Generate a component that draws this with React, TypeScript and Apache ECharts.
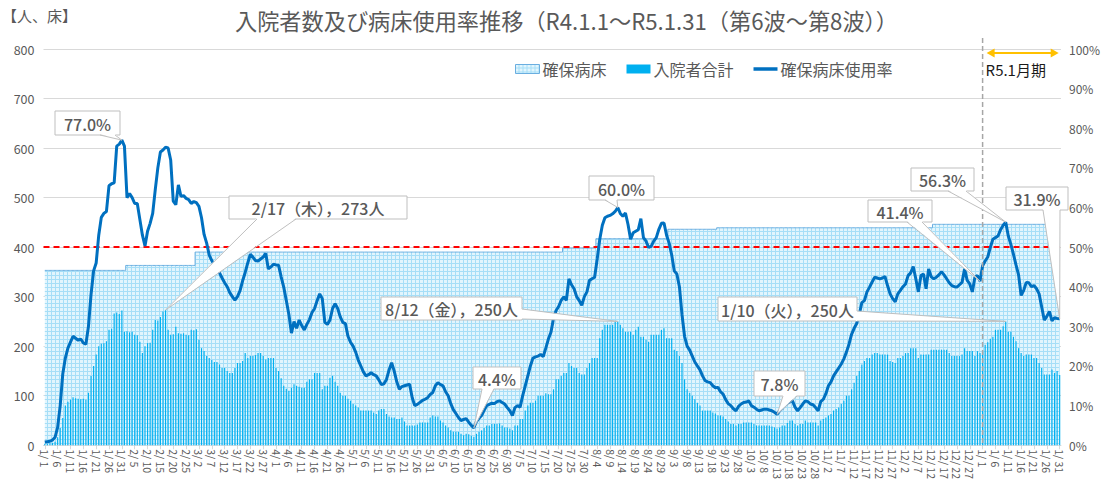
import React, { useEffect, useRef } from 'react';
import * as echarts from 'echarts';

const FONT = "'Noto Sans CJK JP', 'Noto Sans', sans-serif";
const TEXT = '#595959';

// Daily categories: 2022-01-01 .. 2023-01-31
const START_DATE = Date.UTC(2022, 0, 1);
const DAY_COUNT = 396;
const categories: string[] = Array.from({ length: DAY_COUNT }, (_, i) =>
  new Date(START_DATE + i * 86400000).toISOString().slice(0, 10)
);

// 確保病床 (secured beds) as [beds, number of days] steps
const capacitySteps: [number, number][] = [
  [353, 32], [363, 27], [390, 143], [398, 13], [417, 28], [436, 19], [439, 84], [446, 50],
];

// 入院者合計 (inpatients)
const inpatients = [
  3, 3, 4, 5, 7, 16, 35, 55, 80, 88,
  92, 97, 95, 94, 93, 94, 92, 106, 140, 160,
  183, 200, 205, 206, 210, 233, 235, 266, 268, 265,
  272, 229, 230, 228, 229, 223, 222, 209, 186, 200,
  206, 207, 233, 253, 252, 259, 270, 273, 233, 223,
  224, 239, 226, 225, 226, 223, 222, 233, 232, 234,
  213, 196, 190, 180, 176, 172, 168, 168, 163, 156,
  156, 150, 146, 146, 156, 166, 166, 170, 186, 176,
  180, 180, 182, 186, 186, 180, 173, 176, 176, 176,
  156, 150, 135, 120, 114, 110, 116, 123, 120, 118,
  116, 116, 128, 133, 133, 146, 146, 146, 113, 120,
  120, 136, 140, 128, 120, 106, 100, 100, 94, 90,
  83, 80, 76, 70, 70, 70, 70, 70, 66, 63,
  70, 73, 73, 63, 58, 56, 56, 53, 53, 56,
  48, 40, 40, 40, 40, 42, 46, 46, 46, 46,
  56, 60, 58, 58, 50, 46, 40, 36, 30, 27,
  27, 27, 23, 20, 23, 22, 19, 17, 23, 27,
  30, 35, 40, 40, 43, 43, 43, 44, 40, 36,
  36, 34, 30, 40, 40, 53, 53, 70, 80, 86,
  86, 90, 100, 100, 100, 105, 103, 103, 113, 133,
  133, 140, 146, 146, 166, 160, 156, 156, 146, 143,
  143, 156, 166, 176, 176, 176, 216, 233, 243, 243,
  243, 243, 250, 250, 243, 236, 229, 229, 229, 223,
  233, 239, 219, 219, 213, 209, 223, 223, 223, 223,
  233, 236, 216, 216, 216, 193, 190, 180, 166, 133,
  113, 106, 100, 93, 86, 80, 70, 70, 70, 70,
  66, 64, 60, 60, 58, 53, 48, 43, 43, 40,
  43, 43, 46, 46, 46, 46, 43, 40, 40, 40,
  40, 40, 40, 38, 36, 34, 36, 40, 40, 45,
  50, 50, 43, 40, 43, 43, 50, 46, 46, 46,
  46, 40, 50, 53, 56, 60, 63, 70, 73, 76,
  83, 90, 100, 100, 113, 126, 140, 150, 163, 170,
  176, 176, 183, 186, 186, 183, 183, 183, 183, 170,
  168, 166, 176, 176, 180, 186, 186, 196, 196, 196,
  176, 183, 183, 183, 183, 193, 193, 193, 193, 193,
  193, 193, 186, 180, 180, 180, 180, 183, 196, 190,
  190, 190, 180, 190, 186, 190, 203, 208, 215, 219,
  233, 233, 233, 240, 250, 229, 229, 219, 210, 196,
  186, 180, 183, 183, 183, 176, 176, 166, 156, 143,
  143, 143, 153, 146, 150, 142,
];

// 確保病床使用率 (%)
const occupancyRate = [
  0.8, 0.9, 1.0, 1.3, 2.0, 4.5, 10, 18, 22, 24.5,
  26, 27.5, 27, 26.5, 26.8, 25.8, 25.5, 30, 38, 44,
  46, 53, 57.5, 58.5, 59, 65.5, 66, 66.2, 75.5, 76,
  77.0, 75.5, 62.5, 63.5, 62.5, 61, 61, 57, 53, 50.3,
  54, 56, 58.5, 64.5, 70, 74, 74.5, 75.2, 75, 72,
  61.6, 60.7, 65.7, 62.8, 63, 62.3, 62, 61, 61.5, 61.2,
  60.3, 57.4, 53.2, 51, 48, 46.6, 45.5, 44.5, 43.5, 42.2,
  41, 40, 38.5, 37.5, 36.6, 37.5, 39, 41.5, 43.6, 46,
  48.2, 47.5, 46.6, 46.5, 47, 47.5, 48.4, 44.5, 45, 45.7,
  45.5, 45.4, 42.5, 39.9, 36.5, 33, 28.3, 31.2, 29.5, 31.6,
  30.2, 29.1, 30.5, 31.7, 33.5, 34.5, 36.5, 38.2, 37, 31,
  30.5, 31.6, 34.5, 35.7, 34.5, 32.4, 31, 30.7, 27.5, 26,
  25, 23.5, 21.5, 20, 18.5, 17.5, 17.8, 18.3, 17.8, 17.5,
  16.5, 15.3, 15.5, 16.6, 19, 20.8, 18.7, 16, 14.1, 14.8,
  15, 15.2, 15.4, 12, 10, 10.3, 10.8, 11.3, 11.6, 12,
  12.8, 13.3, 15, 15.8, 15.3, 15, 13.5, 12.5, 10.5, 9,
  8, 7, 6.2, 6.5, 6.7, 5.8, 5, 4.4, 6, 6.8,
  7.5, 8.8, 10, 10.3, 10.6, 10.5, 11, 11.2, 10.8, 10.4,
  9.5, 8.7, 7.5, 9.5, 10, 9.6, 12.5, 15, 17.5, 20,
  22, 22.3, 22.5, 22.9, 22.4, 24.5, 26.8, 28.5, 32, 34,
  35, 36.6, 37.4, 36.6, 42, 40.5, 39.5, 37.5, 36.5, 35.3,
  37.5, 38.7, 41.6, 42, 42.4, 47, 52, 55.5, 57.4, 57.8,
  58, 58.4, 59, 60.0, 58.5, 57.8, 58.6, 55.7, 52, 53.6,
  54, 54.4, 57.2, 52.4, 51.5, 49.9, 50.2, 51.5, 52.4, 54.5,
  56, 56.1, 53, 51, 48, 44, 43.2, 40, 33, 27.5,
  25, 24, 22.5, 21, 20, 19, 17.5, 16.3, 16, 15.8,
  15, 14.5, 14.6, 13.5, 12.9, 11.5, 10.5, 10, 9.2, 8.7,
  9.8, 10.4, 10.8, 10.9, 11.2, 10, 9.6, 9.1, 8.7, 8.9,
  9.1, 9.1, 8.9, 8.7, 8.3, 7.8, 8.7, 9.3, 10, 10.6,
  11, 11.2, 9.6, 8.7, 9.5, 10.4, 11.2, 11, 10.4, 10.2,
  9.5, 8.7, 11, 11.6, 13, 15, 16, 17.5, 18.5, 19.5,
  20.5, 21.8, 23.5, 25.5, 28, 29.5, 30.7, 33, 36, 36.5,
  38.7, 39.9, 41.2, 42.4, 42.2, 42, 42.2, 42.6, 40.3, 38.2,
  37, 36.2, 38.2, 39.1, 40, 40.7, 42.8, 43.5, 45.1, 42,
  38.7, 42.8, 43.2, 39.5, 44.5, 42.5, 42, 42.4, 43, 43.8,
  43, 42, 41, 40.3, 40, 39.9, 40.5, 41.1, 44.5, 41.6,
  40.7, 38.7, 42.4, 42.8, 41.4, 45.3, 46.5, 47.5, 49.9, 52,
  52.4, 52.8, 54.4, 55.5, 56.3, 52.8, 50.7, 48.2, 45.5, 43,
  37.8, 39.1, 41.1, 41, 40, 40.3, 39.5, 38.2, 34.9, 31.6,
  32.5, 33.8, 31.4, 32.2, 32, 31.9,
];

const capacity: number[] = capacitySteps.flatMap(([v, n]) => Array(n).fill(v));

const THRESHOLD_RATE = 50;
const MONTH_START_INDEX = 365; // 2023-01-01

type Callout = {
  text: string;
  box: [number, number, number, number];
  side: 'bottom' | 'right';
  base: [number, number];
  index: number;
  series: 'bar' | 'rate';
};

const callouts: Callout[] = [
  { text: '77.0%', box: [55, 111, 65, 24], side: 'bottom', base: [100, 115], index: 30, series: 'rate' },
  { text: '2/17（木），273人', box: [229, 196, 178, 23], side: 'bottom', base: [257, 296], index: 47, series: 'bar' },
  { text: '8/12（金），250人', box: [381, 297, 141, 23], side: 'right', base: [309, 319], index: 223, series: 'bar' },
  { text: '4.4%', box: [473, 367, 48, 22], side: 'bottom', base: [482, 494], index: 167, series: 'rate' },
  { text: '60.0%', box: [589, 176, 65, 24], side: 'bottom', base: [605, 617], index: 223, series: 'rate' },
  { text: '7.8%', box: [754, 371, 51, 25], side: 'bottom', base: [783, 797], index: 285, series: 'rate' },
  { text: '1/10（火），250人', box: [718, 297, 139, 24], side: 'right', base: [311, 321], index: 374, series: 'bar' },
  { text: '41.4%', box: [868, 200, 64, 22], side: 'bottom', base: [907, 922], index: 364, series: 'rate' },
  { text: '56.3%', box: [911, 168, 63, 23], side: 'bottom', base: [948, 966], index: 374, series: 'rate' },
  { text: '31.9%', box: [1006, 187, 62, 23], side: 'bottom', base: [1043, 1060], index: 395, series: 'rate' },
];

function makePattern(): HTMLCanvasElement {
  const c = document.createElement('canvas');
  c.width = 4;
  c.height = 4;
  const ctx = c.getContext('2d')!;
  ctx.fillStyle = '#e2f5fd';
  ctx.fillRect(0, 0, 4, 4);
  ctx.fillStyle = '#a6def7';
  ctx.fillRect(3, 0, 1, 4);
  ctx.fillRect(0, 3, 4, 1);
  return c;
}

export default function App() {
  const ref = useRef<HTMLDivElement>(null);

  useEffect(() => {
    if (!ref.current) return;
    const chart = echarts.init(ref.current, undefined, { renderer: 'svg' });
    const patternCanvas = makePattern();
    const pattern: any = { image: patternCanvas, repeat: 'repeat', imageWidth: 4, imageHeight: 4 };

    const option: any = {
      animation: false,
      textStyle: { fontFamily: FONT },
      title: {
        text: '入院者数及び病床使用率推移（R4.1.1～R5.1.31（第6波～第8波））',
        left: 230,
        top: 4,
        textStyle: { fontFamily: FONT, fontSize: 22.2, fontWeight: 'normal', color: TEXT },
      },
      legend: {
        left: 510,
        top: 56,
        itemWidth: 24,
        itemHeight: 9,
        itemGap: 20,
        textStyle: { fontFamily: FONT, fontSize: 16, color: TEXT, padding: [0, 0, 0, -2] },
        data: [
          { name: '確保病床', icon: 'rect', itemStyle: { color: pattern, borderColor: '#6aaee0', borderWidth: 1 } },
          { name: '入院者合計', icon: 'rect', itemStyle: { color: '#00b0f0' } },
          { name: '確保病床使用率', icon: 'path://M0,0H24V3.5H0Z', itemStyle: { color: '#0070c0' } },
        ],
      },
      grid: { left: 43.5, right: 35.7, top: 49, bottom: 32 },
      xAxis: {
        type: 'category',
        data: categories,
        boundaryGap: true,
        axisLine: { lineStyle: { color: '#d9d9d9' } },
        axisTick: { show: true, interval: 4, alignWithLabel: true, length: 4, lineStyle: { color: '#d9d9d9' } },
        axisLabel: {
          interval: 4,
          rotate: -90,
          fontSize: 10.5,
          color: TEXT,
          margin: 4,
          formatter: (v: string) => `${Number(v.slice(5, 7))}/ ${Number(v.slice(8, 10))}`,
        },
      },
      yAxis: [
        {
          type: 'value',
          min: 0,
          max: 800,
          interval: 100,
          axisLine: { show: false },
          axisTick: { show: false },
          splitLine: { lineStyle: { color: '#d9d9d9', width: 1 } },
          axisLabel: { fontSize: 12.5, color: TEXT, margin: 9 },
        },
        {
          type: 'value',
          min: 0,
          max: 100,
          interval: 10,
          axisLine: { show: false },
          axisTick: { show: false },
          splitLine: { show: false },
          axisLabel: { fontSize: 12, color: TEXT, margin: 8, formatter: '{value}%' },
        },
      ],
      series: [
        {
          name: '確保病床',
          type: 'line',
          data: capacity,
          step: 'middle',
          symbol: 'none',
          lineStyle: { color: '#6aaee0', width: 1 },
          itemStyle: { color: '#6aaee0' },
          areaStyle: { color: pattern, opacity: 1 },
          z: 1,
        },
        {
          name: '入院者合計',
          type: 'bar',
          data: inpatients,
          barWidth: '45%',
          itemStyle: { color: '#00b0f0' },
          z: 2,
        },
        {
          name: '確保病床使用率',
          type: 'line',
          yAxisIndex: 1,
          data: occupancyRate,
          symbol: 'none',
          lineStyle: { color: '#0070c0', width: 3 },
          itemStyle: { color: '#0070c0' },
          z: 4,
          markLine: {
            silent: true,
            symbol: 'none',
            label: { show: false },
            lineStyle: { color: '#ff0000', type: [6, 4], width: 2 },
            data: [{ yAxis: THRESHOLD_RATE }],
            z: 3,
          },
        },
      ],
    };
    chart.setOption(option);

    const toPx = (i: number, v: number, yIdx: number) =>
      chart.convertToPixel({ xAxisIndex: 0, yAxisIndex: yIdx }, [i, v]) as number[];

    const graphics: any[] = [];
    graphics.push({
      type: 'text',
      left: 2,
      top: 8,
      style: { text: '【人、床】', font: `15px ${FONT}`, fill: TEXT },
    });

    // vertical dashed divider at 2023-01-01
    const [divX, bottomY] = toPx(MONTH_START_INDEX, 0, 0);
    const [lastX] = toPx(DAY_COUNT - 1, 0, 0);
    graphics.push({
      type: 'line',
      shape: { x1: divX, y1: 38, x2: divX, y2: bottomY },
      style: { stroke: '#a6a6a6', lineWidth: 1.5, lineDash: [5, 3] },
      z: 50,
    });
    const ay = 53;
    const ax1 = divX + 4;
    const ax2 = lastX - 1;
    graphics.push({
      type: 'line',
      shape: { x1: ax1 + 5, y1: ay, x2: ax2 - 5, y2: ay },
      style: { stroke: '#ffc000', lineWidth: 2 },
      z: 50,
    });
    graphics.push({
      type: 'polygon',
      shape: { points: [[ax1, ay], [ax1 + 8, ay - 4.5], [ax1 + 8, ay + 4.5]] },
      style: { fill: '#ffc000' },
      z: 50,
    });
    graphics.push({
      type: 'polygon',
      shape: { points: [[ax2, ay], [ax2 - 8, ay - 4.5], [ax2 - 8, ay + 4.5]] },
      style: { fill: '#ffc000' },
      z: 50,
    });
    graphics.push({
      type: 'text',
      x: divX + 3,
      y: 69,
      style: { text: 'R5.1月期', font: `15px ${FONT}`, fill: '#1a1a1a', verticalAlign: 'middle' },
      z: 50,
    });

    callouts.forEach((c) => {
      const value = c.series === 'bar' ? inpatients[c.index] : occupancyRate[c.index];
      const [tx, ty] = toPx(c.index, value, c.series === 'bar' ? 0 : 1);
      const [bx, by, bw, bh] = c.box;
      graphics.push({
        type: 'rect',
        shape: { x: bx, y: by, width: bw, height: bh },
        style: { fill: '#ffffff', stroke: '#bfbfbf', lineWidth: 1 },
        z: 60,
      });
      let cover: number[][];
      let sides: number[][];
      if (c.side === 'bottom') {
        const yb = by + bh;
        cover = [[c.base[0], yb - 1], [c.base[1], yb - 1], [tx, ty]];
        sides = [[c.base[0], yb], [tx, ty], [c.base[1], yb]];
      } else {
        const xr = bx + bw;
        cover = [[xr - 1, c.base[0]], [xr - 1, c.base[1]], [tx, ty]];
        sides = [[xr, c.base[0]], [tx, ty], [xr, c.base[1]]];
      }
      graphics.push({ type: 'polygon', shape: { points: cover }, style: { fill: '#ffffff' }, z: 61 });
      graphics.push({
        type: 'polyline',
        shape: { points: sides },
        style: { stroke: '#bfbfbf', lineWidth: 1, fill: null },
        z: 62,
      });
      graphics.push({
        type: 'text',
        x: bx + bw / 2,
        y: by + bh / 2 + 0.5,
        style: {
          text: c.text,
          font: `500 16px ${FONT}`,
          fill: TEXT,
          align: 'center',
          verticalAlign: 'middle',
        },
        z: 63,
      });
    });

    chart.setOption({ graphic: graphics });

    return () => chart.dispose();
  }, []);

  return (
    <div
      ref={ref}
      style={{ position: 'fixed', left: 0, top: 0, width: 1103, height: 482, background: '#ffffff' }}
    />
  );
}
